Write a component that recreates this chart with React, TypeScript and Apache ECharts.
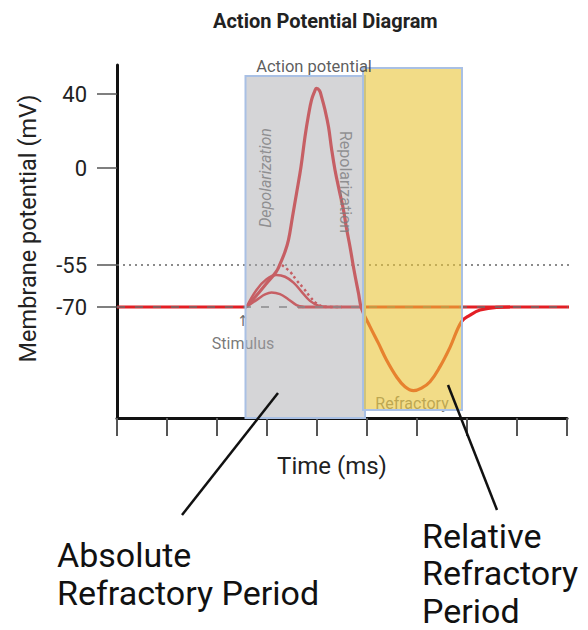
import React, { useEffect, useRef } from "react";
import * as echarts from "echarts";

// ---------- data ----------
const TITLE = "Action Potential Diagram";
const X_NAME = "Time (ms)";
const Y_NAME = "Membrane potential (mV)";
const yTickValues = [40, 0, -55, -70];
const restingMv = -70;
const thresholdMv = -55;
const stimulusMs = 2.6;
const traceEndMs = 9.12;

// main action potential trace
const apTime = [2.59, 2.78, 2.98, 3.18, 3.26, 3.36, 3.43, 3.51, 3.59, 3.68, 3.76, 3.83, 3.89, 3.95, 3.99, 4.05, 4.09, 4.16, 4.23, 4.29, 4.36, 4.45, 4.53, 4.59, 4.66, 4.74, 4.83, 4.89, 5.06, 5.23, 5.39, 5.59, 5.76, 5.93, 6.09, 6.26, 6.46, 6.66, 6.89, 7.06, 7.26, 7.59, 7.86];
const apMv = [-70, -66.1, -61.8, -57.5, -54.5, -47.5, -40.8, -27.6, -14.4, 0.7, 16.9, 28.6, 36.7, 41.2, 43.1, 41.8, 38.6, 31.4, 22.3, 10.6, -1.1, -13.4, -23.8, -34.2, -44.6, -56.8, -65.1, -70.5, -77, -83, -88.9, -94.9, -98.5, -99.9, -99, -96.7, -91.3, -84.4, -75.2, -72.9, -71.1, -70.1, -70];

// sub-threshold responses
const sub1Time = [2.59, 2.83, 2.96, 3.09, 3.26, 3.43, 3.59, 3.73];
const sub1Mv = [-70, -67, -65.5, -64.8, -65.4, -67.3, -69.3, -70];
const sub2Time = [2.59, 2.79, 2.99, 3.19, 3.36, 3.53, 3.69, 3.86, 4.03, 4.19];
const sub2Mv = [-70, -63.9, -60.1, -58.6, -59.2, -61.3, -64.5, -67.8, -69.5, -70];
// failed initiation (dotted)
const failTime = [3.3, 3.46, 3.59, 3.73, 3.86, 3.99, 4.16, 4.5];
const failMv = [-55, -57.4, -60.4, -63.3, -66.3, -68.7, -69.9, -70];

// resting segments
const restBeforeTime = [0, stimulusMs];
const restAfterTime = [3.62, traceEndMs];

// phases (ms)
const absoluteRefractory = [2.57, 4.96];
const relativeRefractory = [4.92, 6.9];

// ---------- layout helpers ----------
const Y_ANCHOR_MV = [-70, -55, 0, 40];
const Y_ANCHOR_H = [111, 153, 250, 324];
function toAxis(mv: number): number {
  const a = Y_ANCHOR_MV, h = Y_ANCHOR_H;
  if (mv <= a[0]) return h[0] + (mv - a[0]) * (h[1] - h[0]) / (a[1] - a[0]);
  for (let i = 0; i < a.length - 1; i++) {
    if (mv <= a[i + 1]) return h[i] + (mv - a[i]) * (h[i + 1] - h[i]) / (a[i + 1] - a[i]);
  }
  const n = a.length - 1;
  return h[n] + (mv - a[n]) * (h[n] - h[n - 1]) / (a[n] - a[n - 1]);
}
const pts = (t: number[], mv: number[]) => t.map((x, i) => [x, toAxis(mv[i])]);

const FONT = "Roboto";
const RED = "#e31e24";

export default function App() {
  const ref = useRef<HTMLDivElement>(null);
  useEffect(() => {
    if (!ref.current) return;
    const chart = echarts.init(ref.current, undefined, { renderer: "svg" });
    const lineBase = {
      type: "line",
      showSymbol: false,
      symbol: "none",
      silent: true,
      clip: false,
    };
    const noteLabel = (text: string, extra: any = {}) => ({
      show: true,
      formatter: text,
      position: "inside",
      fontFamily: FONT,
      fontSize: 16,
      color: "#555",
      ...extra,
    });
    const bandColors = ["rgba(167,167,172,0.48)", "rgba(233,196,55,0.6)"];
    const option: any = {
      animation: false,
      backgroundColor: "#ffffff",
      title: {
        text: TITLE,
        left: 208,
        top: 6,
        textStyle: { fontFamily: FONT, fontSize: 20, fontWeight: "bold", color: "#222" },
      },
      grid: { left: 117, right: 21, top: 65, bottom: 212 },
      xAxis: {
        type: "value",
        min: 0,
        max: 9,
        interval: 1,
        name: X_NAME,
        nameLocation: "middle",
        nameGap: 36,
        nameTextStyle: { fontFamily: FONT, fontSize: 24, color: "#222", padding: [0, 20, 0, 0] },
        axisLine: { lineStyle: { color: "#111", width: 3 } },
        axisTick: { length: 18, lineStyle: { color: "#555", width: 2 } },
        axisLabel: { show: false },
        splitLine: { show: false },
      },
      yAxis: {
        type: "value",
        min: 0,
        max: 353,
        name: Y_NAME,
        nameLocation: "middle",
        nameRotate: 90,
        nameGap: 77,
        nameTextStyle: { fontFamily: FONT, fontSize: 23.5, color: "#222", padding: [0, 0, 0, 26] },
        axisLine: { lineStyle: { color: "#111", width: 3 } },
        axisTick: {
          customValues: yTickValues.map(toAxis),
          length: 20,
          lineStyle: { color: "#555", width: 1.5 },
        },
        axisLabel: {
          customValues: yTickValues.map(toAxis),
          margin: 30,
          fontFamily: FONT,
          fontSize: 22,
          color: "#222",
          formatter: (v: number) => {
            const i = yTickValues.findIndex((t) => Math.abs(toAxis(t) - v) < 0.5);
            return i >= 0 ? String(yTickValues[i]) : "";
          },
        },
        splitLine: { show: false },
      },
      series: [
        {
          ...lineBase,
          name: "threshold",
          z: 2,
          data: [[0, toAxis(thresholdMv)], [traceEndMs, toAxis(thresholdMv)]],
          lineStyle: { color: "#666", width: 1.5, type: [2, 4] },
        },
        {
          ...lineBase,
          name: "restBefore",
          z: 2,
          data: restBeforeTime.map((t) => [t, toAxis(restingMv)]),
          lineStyle: { color: RED, width: 3 },
        },
        {
          ...lineBase,
          name: "restAfter",
          z: 2,
          data: restAfterTime.map((t) => [t, toAxis(restingMv)]),
          lineStyle: { color: RED, width: 3 },
        },
        {
          ...lineBase,
          name: "sub1",
          z: 3,
          smooth: 0.4,
          data: pts(sub1Time, sub1Mv),
          lineStyle: { color: RED, width: 2.5 },
        },
        {
          ...lineBase,
          name: "sub2",
          z: 3,
          smooth: 0.4,
          data: pts(sub2Time, sub2Mv),
          lineStyle: { color: RED, width: 2.5 },
        },
        {
          ...lineBase,
          name: "fail",
          z: 3,
          smooth: 0.4,
          data: pts(failTime, failMv),
          lineStyle: { color: RED, width: 2.5, type: [2.5, 3] },
        },
        {
          ...lineBase,
          name: "ap",
          z: 4,
          smooth: 0.4,
          data: pts(apTime, apMv),
          lineStyle: { color: RED, width: 3.2 },
        },
        {
          ...lineBase,
          name: "restingDash",
          z: 5,
          data: [[0, toAxis(restingMv)], [traceEndMs, toAxis(restingMv)]],
          lineStyle: { color: "rgba(110,110,110,0.75)", width: 2, type: [8, 10] },
        },
        {
          type: "scatter",
          name: "notes",
          z: 6,
          silent: true,
          symbolSize: 1,
          itemStyle: { color: "rgba(0,0,0,0)" },
          data: [
            {
              value: [traceEndMs, toAxis(thresholdMv)],
              label: noteLabel("Threshold", { position: "top", align: "right", distance: 4, color: "#444" }),
            },
            {
              value: [traceEndMs, toAxis(restingMv)],
              label: noteLabel("Resting state", { position: "top", align: "right", distance: 9, color: "#444" }),
            },
            {
              value: [stimulusMs, toAxis(restingMv)],
              label: noteLabel("{a|↑}\n{b|Stimulus}", {
                position: "bottom",
                distance: 2,
                offset: [-4, 0],
                rich: {
                  a: { fontFamily: "DejaVu Sans", fontSize: 15, lineHeight: 22, color: "#444" },
                  b: { fontFamily: FONT, fontSize: 16, lineHeight: 24, color: "#555" },
                },
              }),
            },
            { value: [2.96, 240], label: noteLabel("Depolarization", { rotate: 90, fontStyle: "italic" }) },
            { value: [4.56, 236], label: noteLabel("Repolarization", { rotate: -90 }) },
            { value: [5.9, 15], label: noteLabel("Refractory") },
          ],
        },
        {
          type: "custom",
          name: "phases",
          z: 10,
          silent: true,
          data: [
            [absoluteRefractory[0], absoluteRefractory[1], 0, 342],
            [relativeRefractory[0], relativeRefractory[1], 8, 350],
          ],
          renderItem: (params: any, api: any) => {
            const p0 = api.coord([api.value(0), api.value(3)]);
            const p1 = api.coord([api.value(1), api.value(2)]);
            return {
              type: "rect",
              shape: { x: p0[0], y: p0[1], width: p1[0] - p0[0], height: p1[1] - p0[1] },
              style: {
                fill: bandColors[params.dataIndex],
                stroke: "#a9c0e4",
                lineWidth: 2,
              },
            };
          },
        },
        {
          type: "scatter",
          name: "topNotes",
          z: 12,
          silent: true,
          symbolSize: 1,
          itemStyle: { color: "rgba(0,0,0,0)" },
          data: [
            { value: [3.94, 352], label: noteLabel("Action potential", { color: "#333", fontSize: 16.5 }) },
          ],
        },
        {
          ...lineBase,
          name: "calloutAbsolute",
          z: 15,
          data: [[3.22, 25], [1.3, -97]],
          lineStyle: { color: "#111", width: 2.5 },
        },
        {
          ...lineBase,
          name: "calloutRelative",
          z: 15,
          data: [[6.62, 33], [7.6, -92]],
          lineStyle: { color: "#111", width: 2.5 },
        },
      ],
      graphic: [
        {
          type: "text",
          left: 57,
          top: 536,
          style: {
            text: "Absolute\nRefractory Period",
            fontFamily: FONT,
            fontSize: 34,
            lineHeight: 38,
            fill: "#111",
          },
        },
        {
          type: "text",
          left: 422,
          top: 517,
          style: {
            text: "Relative\nRefractory\nPeriod",
            fontFamily: FONT,
            fontSize: 34,
            lineHeight: 37.5,
            fill: "#111",
          },
        },
      ],
    };
    chart.setOption(option);
    return () => chart.dispose();
  }, []);
  return (
    <div
      ref={ref}
      style={{ position: "absolute", left: 0, top: 0, width: 588, height: 630, background: "#fff" }}
    />
  );
}
